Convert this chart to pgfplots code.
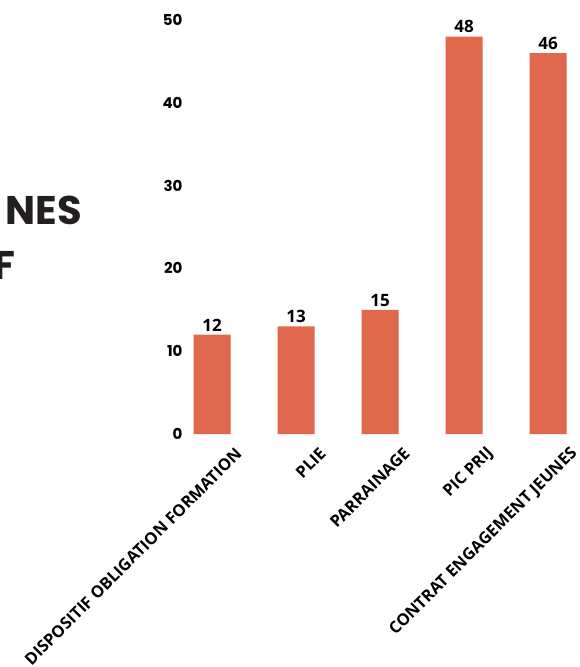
\documentclass[border=0pt]{standalone}
\usepackage{fontspec}
\setmainfont{Open Sans}
\newfontfamily\titlefont{Poppins}
\newfontfamily\numfont{Poppins}
\usepackage{pgfplots}
\pgfplotsset{compat=1.18}
\definecolor{barc}{RGB}{224,104,77}
\definecolor{txt}{RGB}{35,31,32}
\begin{document}
\begin{tikzpicture}[x=1pt,y=1pt]
\path[use as bounding box] (0,0) rectangle (579,667);
\node[anchor=base east, font=\titlefont\bfseries\fontsize{40}{40}\selectfont, text=txt, inner sep=0pt] at (82,442) {NES};
\node[anchor=base east, font=\titlefont\bfseries\fontsize{40}{40}\selectfont, text=txt, inner sep=0pt] at (16,387) {F};
\begin{axis}[
  at={(187pt,233pt)}, anchor=south west,
  scale only axis, width=386.4pt, height=414pt,
  xmin=-0.3, xmax=4.3, ymin=0, ymax=50,
  axis line style={draw=none}, major tick style={draw=none},
  ytick={0,10,20,30,40,50},
  xtick=data,
  xticklabels={DISPOSITIF OBLIGATION FORMATION, PLIE, PARRAINAGE, PIC PRIJ, CONTRAT ENGAGEMENT JEUNES},
  /pgf/number format/assume math mode=true,
  yticklabel style={font=\numfont\bfseries\fontsize{15}{15}\selectfont, text=black, xshift=-1pt},
  xticklabel style={xshift=29pt, yshift=-10pt, font=\bfseries\fontsize{16.4}{16.4}\selectfont, text=black, rotate=45, anchor=east},
  ybar, bar width=37pt,
  nodes near coords,
  nodes near coords style={font=\bfseries\fontsize{17}{17}\selectfont, text=black},
  clip=false,
]
\addplot[fill=barc, draw=none] coordinates {(0,12) (1,13) (2,15) (3,48) (4,46)};
\end{axis}
\end{tikzpicture}
\end{document}
